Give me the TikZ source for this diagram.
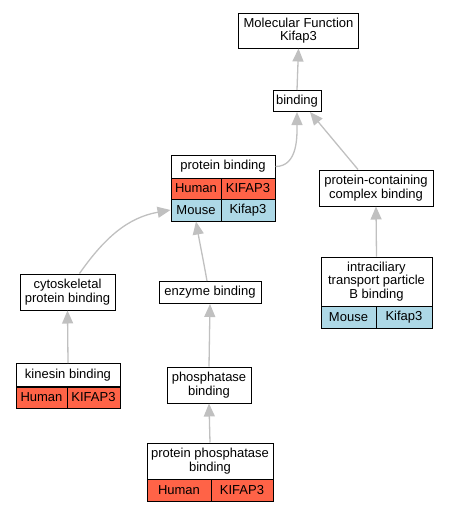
\documentclass[tikz,border=0pt]{standalone}
\usepackage{fontspec}
\setmainfont{Liberation Sans}
\usepackage{tikz}
\usetikzlibrary{arrows.meta}
\usepackage{xcolor}

\definecolor{humanred}{HTML}{FF6347}
\definecolor{mouseblue}{HTML}{ADD8E6}
\definecolor{linkgray}{HTML}{C0C0C0}

\tikzset{
    term/.style={draw, line width=1pt, inner sep=0pt, align=center,
        font=\fontsize{13}{13.5}\selectfont},
    human/.style={term, fill=humanred},
    mouse/.style={term, fill=mouseblue},
    link/.style={draw=linkgray, line width=1.3pt, -{Triangle[length=13pt,width=11pt]}}
}

\begin{document}
\begin{tikzpicture}[x=1pt, y=-1pt]

        \useasboundingbox (0,0) rectangle (448,512);

        % Draw root and binding
        \node[term, minimum width=120pt, minimum height=35pt] (mf) at (298.5,30.5) {Molecular Function\\Kifap3};
        \node[term, minimum width=48pt, minimum height=21pt] (bind) at (297,101) {binding};

        % Draw protein binding table
        \node[term, minimum width=104pt, minimum height=23pt] (pbt) at (223,166.5) {protein binding};
        \node[human, minimum width=50pt, minimum height=21pt] (pbh1) at (196,188.5) {Human};
        \node[human, minimum width=54pt, minimum height=21pt] (pbh2) at (248,188.5) {KIFAP3};
        \node[mouse, minimum width=50pt, minimum height=22pt] (pbm1) at (196,210) {Mouse};
        \node[mouse, minimum width=54pt, minimum height=22pt] (pbm2) at (248,210) {Kifap3};

        % Draw complex binding branch
        \node[term, minimum width=114pt, minimum height=36pt] (pcc) at (376,188) {protein-containing\\complex binding};
        \node[term, minimum width=111pt, minimum height=49pt] (icbt) at (376.5,281.5) {intraciliary\\transport particle\\B binding};
        \node[mouse, minimum width=55pt, minimum height=22pt] (icbm1) at (348.5,317) {Mouse};
        \node[mouse, minimum width=56pt, minimum height=22pt] (icbm2) at (404,317) {Kifap3};

        % Draw cytoskeletal branch
        \node[term, minimum width=95pt, minimum height=36pt] (csk) at (67.5,292) {cytoskeletal\\protein binding};
        \node[term, minimum width=104pt, minimum height=23pt] (kint) at (68,375) {kinesin binding};
        \node[human, minimum width=51pt, minimum height=21pt] (kinh1) at (41.5,397.5) {Human};
        \node[human, minimum width=53pt, minimum height=21pt] (kinh2) at (93.5,397.5) {KIFAP3};

        % Draw enzyme branch
        \node[term, minimum width=102pt, minimum height=22pt] (enz) at (210,292.5) {enzyme binding};
        \node[term, minimum width=84pt, minimum height=36pt] (phb) at (209,385) {phosphatase\\binding};
        \node[term, minimum width=126pt, minimum height=36pt] (ppbt) at (210,461) {protein phosphatase\\binding};
        \node[human, minimum width=64pt, minimum height=22pt] (ppbh1) at (179,490) {Human};
        \node[human, minimum width=62pt, minimum height=22pt] (ppbh2) at (242,490) {KIFAP3};

        % Draw links
        \draw[link] (bind.north) -- (mf.south);
        \draw[link] (pbt.east) to[out=0, in=-90] (bind.south);
        \draw[link] ([xshift=-18pt]pcc.north) -- ([xshift=13pt]bind.south);
        \draw[link] (icbt.north) -- (pcc.south);
        \draw[link] ([xshift=12pt]csk.north) to[out=55, in=190] (pbm1.west);
        \draw[link] ([xshift=-3pt]enz.north) to[out=100, in=-80] (pbm1.south);
        \draw[link] (kint.north) -- (csk.south);
        \draw[link] (phb.north) -- (enz.south);
        \draw[link] (ppbt.north) -- (phb.south);

    \end{tikzpicture}
\end{document}
